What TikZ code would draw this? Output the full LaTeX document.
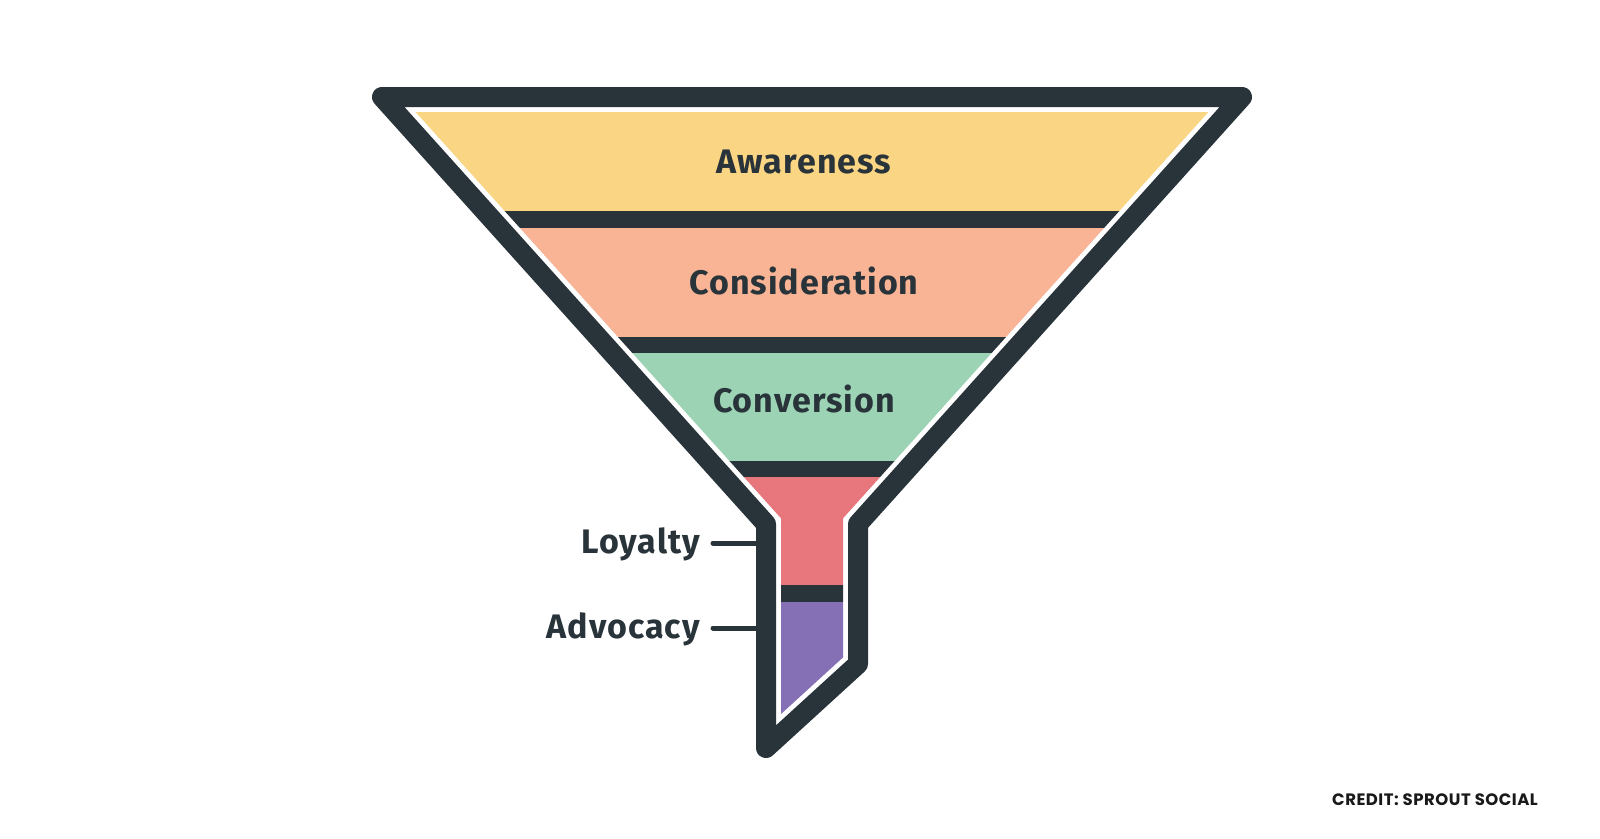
\documentclass[tikz,border=0pt]{standalone}
\usepackage{fontspec}
\newfontfamily\labelfont{Fira Sans}[LetterSpace=3]
\newfontfamily\creditfont{Poppins}[LetterSpace=3]
\definecolor{ink}{HTML}{29333A}
\definecolor{cawareness}{HTML}{FAD583}
\definecolor{cconsider}{HTML}{F8B494}
\definecolor{cconvert}{HTML}{9CD3B5}
\definecolor{cloyal}{HTML}{E8767D}
\definecolor{cadvocacy}{HTML}{8570B5}
\tikzset{
  stagelabel/.style={font=\labelfont\bfseries\fontsize{34}{37}\selectfont, text=ink, inner sep=0pt, anchor=base},
  sidelabel/.style={font=\labelfont\bfseries\fontsize{34}{37}\selectfont, text=ink, inner sep=0pt, anchor=base east},
  creditlabel/.style={font=\creditfont\bfseries\fontsize{16.5}{19}\selectfont, text=black!90, inner sep=0pt, anchor=base east},
  funnel/.style={draw=ink, fill=white, line width=20pt, line join=round},
  tick/.style={draw=ink, line width=5pt, line cap=round},
  stripe/.style={draw=none}
}
\begin{document}
\begin{tikzpicture}[x=1pt,y=-1pt]
\useasboundingbox (0,0) rectangle (1600,838);
\fill[white] (0,0) rectangle (1600,838);
% outline
\draw[funnel] (382,97) -- (1242,97) -- (858,524) -- (858,664) -- (766,748) -- (766,524) -- cycle;
% stripes
\begin{scope}
\clip (415.65,112) -- (1208.35,112) -- (843,518.3) -- (843,657.4) -- (781,714) -- (781,518.3) -- cycle;
\fill[stripe, cawareness] (380,100) rectangle (1250,211);
\fill[stripe, ink] (380,211) rectangle (1250,228);
\fill[stripe, cconsider] (380,228) rectangle (1250,337);
\fill[stripe, ink] (380,337) rectangle (1250,353);
\fill[stripe, cconvert] (380,353) rectangle (1250,461);
\fill[stripe, ink] (380,461) rectangle (1250,477);
\fill[stripe, cloyal] (380,477) rectangle (1250,585);
\fill[stripe, ink] (380,585) rectangle (1250,602);
\fill[stripe, cadvocacy] (380,602) rectangle (1250,760);
\end{scope}
% stage labels
\node[stagelabel] (awareness) at (804,173) {Awareness};
\node[stagelabel] (consideration) at (804,294) {Consideration};
\node[stagelabel] (conversion) at (804,412) {Conversion};
% side labels
\node[sidelabel] (loyalty) at (700,553) {Loyalty};
\node[sidelabel] (advocacy) at (700,638) {Advocacy};
\coordinate (lyA) at (713,543);
\coordinate (lyB) at (766,543);
\coordinate (adA) at (713,628);
\coordinate (adB) at (766,628);
\draw[tick] (lyA) -- (lyB);
\draw[tick] (adA) -- (adB);
% credit
\node[creditlabel] (credit) at (1538,805) {CREDIT: SPROUT SOCIAL};
\end{tikzpicture}
\end{document}
